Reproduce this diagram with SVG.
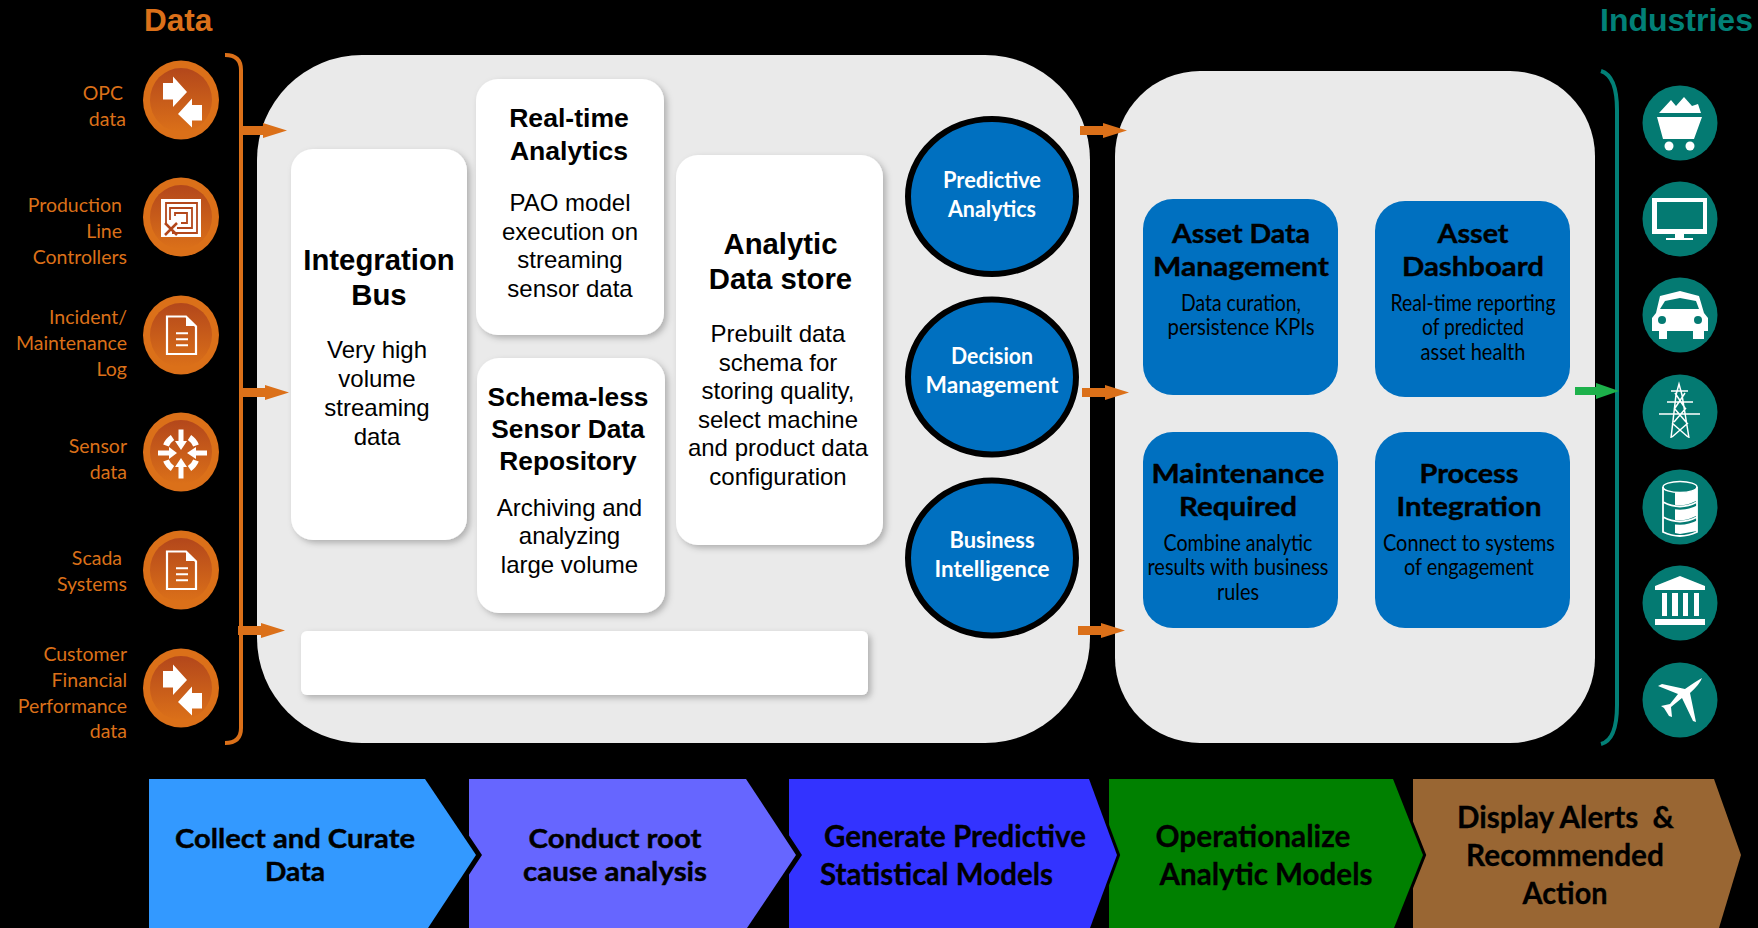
<svg xmlns="http://www.w3.org/2000/svg" width="1758" height="928" viewBox="0 0 1758 928">
<style>
.h{font-family:"Liberation Sans",Arial,sans-serif;font-weight:700}
.in{font-family:"Liberation Sans",Arial,sans-serif;font-size:24px;text-anchor:middle;fill:#000}
.it{font-family:"Liberation Sans",Arial,sans-serif;font-weight:700;font-size:29.300px;text-anchor:middle;fill:#000}
.it2{font-family:"Liberation Sans",Arial,sans-serif;font-weight:700;font-size:26.600px;text-anchor:middle;fill:#000}
.lbl{font-family:Lato,"Open Sans",sans-serif;font-size:19.500px;text-anchor:end;fill:#DB7019}
.cir{font-family:Lato,"Open Sans",sans-serif;font-weight:700;font-size:22.500px;text-anchor:middle;fill:#fff}
.bt{font-family:Lato,"Open Sans",sans-serif;font-weight:700;font-size:26px;text-anchor:middle;fill:#000;stroke:#000;stroke-width:.4}
.bs{font-family:Lato,"Open Sans",sans-serif;font-size:23px;text-anchor:middle;fill:#000}
.st{font-family:Lato,"Open Sans",sans-serif;font-weight:700;font-size:31px;text-anchor:middle;fill:#000;white-space:pre;stroke:#000;stroke-width:.3}
.st2{font-family:Lato,"Open Sans",sans-serif;font-weight:700;font-size:27.400px;text-anchor:middle;fill:#000;stroke:#000;stroke-width:.4}
.box{fill:#fff;filter:url(#sh)}
.blue{fill:#0070C0}
.oc{fill:#0070C0;stroke:#000;stroke-width:6}
.arr{fill:#DB7019}
.w{fill:#fff}
.doc{fill:none;stroke:#fff;stroke-width:2.200}
.teal{fill:#047A72}
.chev{stroke:#000;paint-order:stroke;stroke-miterlimit:10}
</style>
<defs>
<filter id="sh" x="-10%" y="-10%" width="125%" height="125%"><feDropShadow dx="3" dy="3" stdDeviation="3" flood-color="#000" flood-opacity=".25"/></filter>
<linearGradient id="og" x1="0" y1="0" x2="0" y2="1"><stop offset="0" stop-color="#B3471B"/><stop offset="1" stop-color="#DB7019"/></linearGradient>
<g id="base"><ellipse rx="38" ry="39.500" fill="#DB7019"/><ellipse rx="31" ry="32" fill="url(#og)"/></g>
<g id="swap"><use href="#base"/><path class="w" d="M-18-17H-8V-23.500L6-8-8 7V-.5H-18Z"/><path class="w" d="M21 5H11V-1.500L-3 14 11 27.500V20.500H21Z"/></g>
<g id="doc"><use href="#base"/><path class="doc" d="M-14-18.500H5L15-8.500V19H-14Z"/><path class="w" d="M5-18L14-9H5Z"/><path d="M-5-1.700H7M-5 4.300H7M-5 10.300H7" stroke="#fff" stroke-width="2"/></g>
</defs>
<rect width="1758" height="928" fill="#000"/>

<text class="h" x="144" y="31" font-size="31.500" fill="#DB7019">Data</text>
<text class="h" x="1600" y="31" font-size="32" fill="#028077">Industries</text>

<g id="panel-left"><rect x="257" y="55" width="833" height="688" rx="105" fill="#EAEAEA"/></g>
<g id="panel-right"><rect x="1115" y="71" width="480" height="672" rx="85" fill="#EAEAEA"/></g>

<g id="integration-bus"><rect class="box" x="291" y="149" width="176" height="391" rx="22"/>
<text class="it" x="379" y="270">Integration</text><text class="it" x="379" y="305">Bus</text>
<text class="in" x="377" y="358">Very high</text><text class="in" x="377" y="387">volume</text><text class="in" x="377" y="416">streaming</text><text class="in" x="377" y="445">data</text></g>
<g id="real-time"><rect class="box" x="476" y="79" width="188" height="256" rx="22"/>
<text class="it2" x="569" y="127">Real-time</text><text class="it2" x="569" y="160">Analytics</text>
<text class="in" x="570" y="211">PAO model</text><text class="in" x="570" y="240">execution on</text><text class="in" x="570" y="268">streaming</text><text class="in" x="570" y="297">sensor data</text></g>
<g id="schema-less"><rect class="box" x="477" y="358" width="188" height="255" rx="22"/>
<text class="h" font-size="26.300" text-anchor="middle" x="568" y="406">Schema-less</text><text class="h" font-size="26.300" text-anchor="middle" x="568" y="438">Sensor Data</text><text class="h" font-size="26.300" text-anchor="middle" x="568" y="470">Repository</text>
<text class="in" x="569.500" y="516">Archiving and</text><text class="in" x="569.500" y="544">analyzing</text><text class="in" x="569.500" y="573">large volume</text></g>
<g id="data-store"><rect class="box" x="676" y="155" width="207" height="390" rx="22"/>
<text class="it" x="780.500" y="254">Analytic</text><text class="it" x="780.500" y="289">Data store</text>
<text class="in" x="778" y="342">Prebuilt data</text><text class="in" x="778" y="371">schema for</text><text class="in" x="778" y="399">storing quality,</text><text class="in" x="778" y="428">select machine</text><text class="in" x="778" y="456">and product data</text><text class="in" x="778" y="485">configuration</text></g>
<g id="blank-box"><rect class="box" x="301" y="631" width="567" height="64" rx="6"/></g>

<g id="predictive"><ellipse class="oc" cx="992" cy="196.500" rx="84" ry="77.500"/><text class="cir" x="992" y="187.500" textLength="98" lengthAdjust="spacingAndGlyphs">Predictive</text><text class="cir" x="992" y="216.500" textLength="88" lengthAdjust="spacingAndGlyphs">Analytics</text></g>
<g id="decision"><ellipse class="oc" cx="992" cy="377" rx="84" ry="77.500"/><text class="cir" x="992" y="363.500" textLength="82" lengthAdjust="spacingAndGlyphs">Decision</text><text class="cir" x="992" y="393" textLength="133" lengthAdjust="spacingAndGlyphs">Management</text></g>
<g id="bi"><ellipse class="oc" cx="992" cy="558" rx="84" ry="77.500"/><text class="cir" x="992" y="547.500" textLength="85" lengthAdjust="spacingAndGlyphs">Business</text><text class="cir" x="992" y="576.500" textLength="115" lengthAdjust="spacingAndGlyphs">Intelligence</text></g>

<g id="asset-data"><rect class="blue" x="1143" y="199" width="195" height="196" rx="30"/>
<text class="bt" x="1241" y="243" textLength="138" lengthAdjust="spacingAndGlyphs">Asset Data</text><text class="bt" x="1241" y="276" textLength="176" lengthAdjust="spacingAndGlyphs">Management</text>
<text class="bs" x="1241" y="311" textLength="120" lengthAdjust="spacingAndGlyphs">Data curation,</text><text class="bs" x="1241" y="335" textLength="147" lengthAdjust="spacingAndGlyphs">persistence KPIs</text></g>
<g id="asset-dashboard"><rect class="blue" x="1375" y="201" width="195" height="196" rx="30"/>
<text class="bt" x="1473" y="243" textLength="71" lengthAdjust="spacingAndGlyphs">Asset</text><text class="bt" x="1473" y="276" textLength="142" lengthAdjust="spacingAndGlyphs">Dashboard</text>
<text class="bs" x="1473" y="311" textLength="165" lengthAdjust="spacingAndGlyphs">Real-time reporting</text><text class="bs" x="1473" y="335" textLength="102" lengthAdjust="spacingAndGlyphs">of predicted</text><text class="bs" x="1473" y="360" textLength="105" lengthAdjust="spacingAndGlyphs">asset health</text></g>
<g id="maintenance"><rect class="blue" x="1143" y="432" width="195" height="196" rx="30"/>
<text class="bt" x="1238" y="483" textLength="173" lengthAdjust="spacingAndGlyphs">Maintenance</text><text class="bt" x="1238" y="516" textLength="118" lengthAdjust="spacingAndGlyphs">Required</text>
<text class="bs" x="1238" y="551" textLength="149" lengthAdjust="spacingAndGlyphs">Combine analytic</text><text class="bs" x="1238" y="575" textLength="181" lengthAdjust="spacingAndGlyphs">results with business</text><text class="bs" x="1238" y="600" textLength="42" lengthAdjust="spacingAndGlyphs">rules</text></g>
<g id="process"><rect class="blue" x="1375" y="432" width="195" height="196" rx="30"/>
<text class="bt" x="1469" y="483" textLength="99" lengthAdjust="spacingAndGlyphs">Process</text><text class="bt" x="1469" y="516" textLength="145" lengthAdjust="spacingAndGlyphs">Integration</text>
<text class="bs" x="1469" y="551" textLength="172" lengthAdjust="spacingAndGlyphs">Connect to systems</text><text class="bs" x="1469" y="575" textLength="130" lengthAdjust="spacingAndGlyphs">of engagement</text></g>

<g id="connectors">
<path d="M225 55Q241 55 241 70V728Q241 743 225 743" fill="none" stroke="#DB7019" stroke-width="4"/>
<path d="M1601 71Q1617 76 1617 110V705Q1617 740 1601 744" fill="none" stroke="#028077" stroke-width="4"/>
<path class="arr" d="M242 126H263V123L287 130.500 263 138V135H242Z"/>
<path class="arr" d="M242 388H265V385L289 392.500 265 400V397H242Z"/>
<path class="arr" d="M238 626H261V623L285 630.500 261 638V635H238Z"/>
<path class="arr" d="M1080 126H1103V123L1127 130.500 1103 138V135H1080Z"/>
<path class="arr" d="M1082 388H1105V385L1129 392.500 1105 400V397H1082Z"/>
<path class="arr" d="M1078 626H1101V623L1125 630.500 1101 638V635H1078Z"/>
<path d="M1575 387H1596V383L1619 391 1596 399V395H1575Z" fill="#1DB14B"/>
</g>

<g id="src-opc"><use href="#swap" x="181" y="100"/><text class="lbl" x="123" y="100">OPC</text><text class="lbl" x="126" y="126">data</text></g>
<g id="src-plc"><use href="#base" x="181" y="217"/><rect class="w" x="161" y="199" width="40" height="38"/>
<path d="M166 224V203H197V233H172M170 220V208H192V228H177M175 216V213H187V223H181" fill="none" stroke="#B3471B" stroke-width="1.800"/><path d="M165 235L177 223M165 223L177 235" stroke="#B3471B" stroke-width="2.500"/>
<text class="lbl" x="122" y="212">Production</text><text class="lbl" x="122" y="238">Line</text><text class="lbl" x="127" y="264">Controllers</text></g>
<g id="src-log"><use href="#doc" x="181" y="335"/><text class="lbl" x="127" y="324">Incident/</text><text class="lbl" x="127" y="350">Maintenance</text><text class="lbl" x="127" y="376">Log</text></g>
<g id="src-sensor"><use href="#base" x="181" y="452"/>
<path class="w" d="M178.500 429.500H183.500V441H187L181 450 175 441H178.500ZM178.500 478.500H183.500V467H187L181 458 175 467H178.500ZM158 450.500V455.500H169V459L177 453 169 447V450.500ZM207 450.500V455.500H196V459L187 453 196 447V450.500Z"/>
<path d="M172.500 437.500A17.500 17.500 0 0 0 166 445.500M189.500 437.500A17.500 17.500 0 0 1 196 445.500M172.500 468.500A17.500 17.500 0 0 1 166 460.500M189.500 468.500A17.500 17.500 0 0 0 196 460.500" fill="none" stroke="#fff" stroke-width="6"/>
<text class="lbl" x="127" y="453">Sensor</text><text class="lbl" x="127" y="479">data</text></g>
<g id="src-scada"><use href="#doc" x="181" y="570"/><text class="lbl" x="122" y="565">Scada</text><text class="lbl" x="127" y="591">Systems</text></g>
<g id="src-customer"><use href="#swap" x="181" y="688"/><text class="lbl" x="127" y="661">Customer</text><text class="lbl" x="127" y="687">Financial</text><text class="lbl" x="127" y="713">Performance</text><text class="lbl" x="127" y="738">data</text></g>

<g id="ind-mining"><circle class="teal" cx="1680" cy="123" r="37.500"/><path class="w" d="M1659 113L1671 100 1676 106 1684 97 1692 106 1698 104 1701 113ZM1657 117H1702L1694 139H1663Z"/><circle class="w" cx="1669" cy="146" r="4.500"/><circle class="w" cx="1690" cy="146" r="4.500"/></g>
<g id="ind-tv"><circle class="teal" cx="1680" cy="219" r="37.500"/><path class="w" fill-rule="evenodd" d="M1652 198H1707V234H1684V238H1693V240H1666V238H1675V234H1652ZM1657 202V229H1703V202Z"/></g>
<g id="ind-car"><circle class="teal" cx="1680" cy="315" r="37.500"/><path class="w" fill-rule="evenodd" d="M1660 296L1680 291 1699 296 1704 313 1708 318V331H1704V339H1693V331H1667V339H1659V331H1652V318L1656 313ZM1665 301L1660 309H1699L1696 301 1680 298Z"/><circle class="teal" cx="1662" cy="320" r="4"/><circle class="teal" cx="1698" cy="320" r="4"/></g>
<g id="ind-power"><circle class="teal" cx="1680" cy="412" r="37.500"/><path d="M1671 438L1676 395 1679 384 1682 395 1689 438M1672 423L1688 437M1688 423L1672 437M1674 408L1686 422M1686 408L1674 422M1671 391H1688M1667 402H1693M1659 414H1700M1675 393L1685 408M1685 393L1675 408" fill="none" stroke="#fff" stroke-width="1.500"/></g>
<g id="ind-barrel"><circle class="teal" cx="1680" cy="507" r="37.500"/><path class="w" d="M1675 487H1697V531L1680 534 1675 533Z"/><path d="M1663 503Q1680 512 1697 503M1663 518Q1680 527 1697 518" fill="none" stroke="#047A72" stroke-width="4.500"/><ellipse class="teal" cx="1680" cy="487" rx="17" ry="5.500" stroke="#fff" stroke-width="1.500"/><path d="M1663 487V532Q1680 540 1697 532V487M1663 502Q1680 511 1697 502M1663 517Q1680 526 1697 517" fill="none" stroke="#fff" stroke-width="1.800"/></g>
<g id="ind-bank"><circle class="teal" cx="1680" cy="603" r="37.500"/><path class="w" d="M1655 586L1680 576 1705 586V590H1655ZM1662 593H1667V616H1662ZM1672 593H1678V616H1672ZM1683 593H1688V616H1683ZM1694 593H1699V616H1694ZM1655 619H1705V625H1655Z"/></g>
<g id="ind-plane"><circle class="teal" cx="1680" cy="700" r="37.500"/><path class="w" d="M1702 678Q1700 684 1690 693L1696 722 1693 721 1682 698 1671 707 1672 717 1669 716 1664 708 1661 706 1670 704 1678 694 1658 686 1662 684 1685 689Q1698 680 1702 678Z"/></g>

<g id="step-5"><path class="chev" stroke-width="6" d="M1413 779H1714L1741 855 1719 928H1413Z" fill="#996633"/><text class="st" x="1565.500" y="828" textLength="217" lengthAdjust="spacingAndGlyphs">Display Alerts  &amp;</text><text class="st" x="1565" y="866" textLength="198" lengthAdjust="spacingAndGlyphs">Recommended</text><text class="st" x="1565" y="904" textLength="85" lengthAdjust="spacingAndGlyphs">Action</text></g>
<g id="step-4"><path class="chev" stroke-width="6" d="M1109 779H1393L1423 855 1394 928H1109Z" fill="#008000"/><text class="st" x="1253" y="847" textLength="195" lengthAdjust="spacingAndGlyphs">Operationalize</text><text class="st" x="1266" y="885" textLength="213" lengthAdjust="spacingAndGlyphs">Analytic Models</text></g>
<g id="step-3"><path class="chev" stroke-width="6" d="M789 779H1089L1117 855 1090 928H789Z" fill="#3333FF"/><text class="st" x="955" y="847" textLength="262" lengthAdjust="spacingAndGlyphs">Generate Predictive</text><text class="st" x="936.500" y="885" textLength="233" lengthAdjust="spacingAndGlyphs">Statistical Models</text></g>
<g id="step-2"><path class="chev" stroke-width="10" d="M469 779H746L796 855 747 928H469Z" fill="#6666FF"/><text class="st2" x="615" y="848" textLength="173" lengthAdjust="spacingAndGlyphs">Conduct root</text><text class="st2" x="615" y="881" textLength="184" lengthAdjust="spacingAndGlyphs">cause analysis</text></g>
<g id="step-1"><path class="chev" stroke-width="10" d="M149 779H425L476 855 428 928H149Z" fill="#3399FF"/><text class="st2" x="295" y="848" textLength="240" lengthAdjust="spacingAndGlyphs">Collect and Curate</text><text class="st2" x="295" y="881" textLength="60" lengthAdjust="spacingAndGlyphs">Data</text></g>
</svg>
